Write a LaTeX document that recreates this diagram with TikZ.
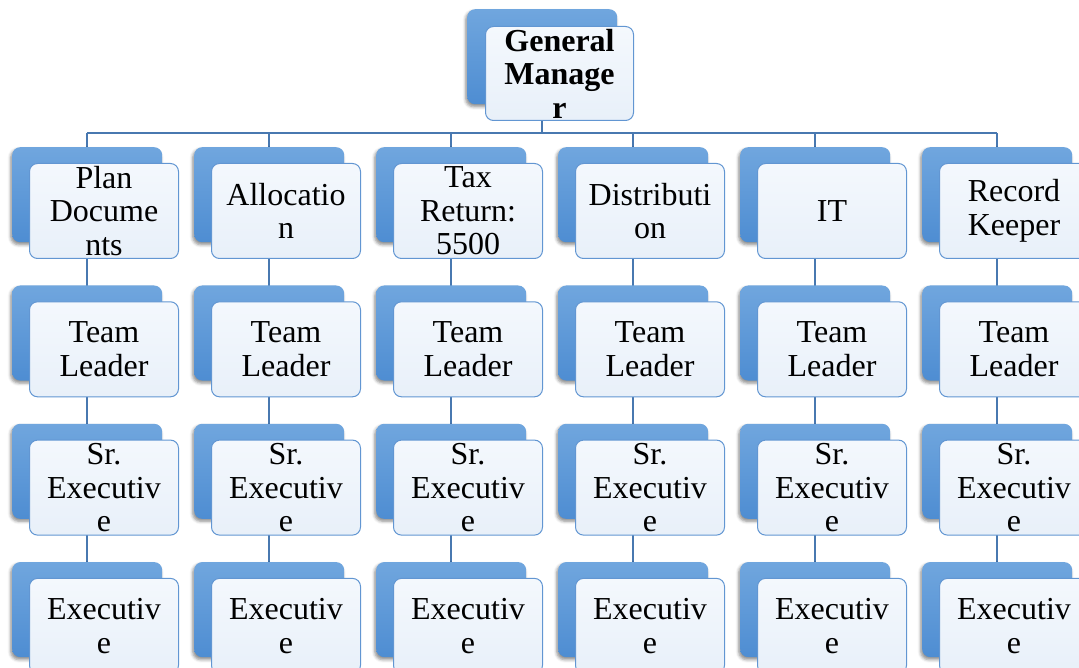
\documentclass[tikz,border=0pt]{standalone}
\usepackage{fontspec}
\setmainfont{Liberation Serif}
\usetikzlibrary{shadows.blur}
\definecolor{backtop}{RGB}{112,166,222}
\definecolor{backbot}{RGB}{78,141,210}
\definecolor{cardtop}{RGB}{244,248,253}
\definecolor{cardbot}{RGB}{232,240,249}
\definecolor{cardline}{RGB}{98,150,210}
\definecolor{linkcol}{RGB}{72,120,176}
\tikzset{
  backbox/.style={anchor=north west, rectangle, rounded corners=8pt,
    minimum width=150pt, minimum height=95pt, inner sep=0pt,
    top color=backtop, bottom color=backbot, draw=none,
    blur shadow={shadow xshift=-1.5pt, shadow yshift=-2.5pt,
      shadow blur radius=3pt, shadow opacity=45}},
  card/.style={anchor=north west, rectangle, rounded corners=8pt,
    minimum width=149pt, minimum height=95pt, inner sep=0pt,
    top color=cardtop, bottom color=cardbot, draw=cardline, line width=1pt,
    text width=149pt, align=center,
    font=\fontsize{32}{33.5}\selectfont},
  link/.style={draw=linkcol, line width=2.2pt}
}
\begin{document}
\begin{tikzpicture}[x=1pt,y=-1pt]
\useasboundingbox (0,0) rectangle (1079,668);

% top box (positions only; drawn after the links)
\coordinate (gmpos) at (467,9);
\coordinate (bus) at (0,133);

% links: manager down to the bus, bus across, each column down
\draw[link] (542,60) coordinate (gmc) -- (gmc |- bus) coordinate (busmid);
\draw[link] (87,133) coordinate (busl) -- (997,133) coordinate (busr);
\foreach \c in {1,...,6}{
  \pgfmathsetmacro{\cx}{87+182*(\c-1)}
  \draw[link] (\cx,133) coordinate (top\c) -- (\cx,600) coordinate (end\c);
}

% manager
\node[backbox] (gmb) at (467,9) {};
\node[card, font=\fontsize{32}{33.5}\selectfont\bfseries,
  minimum width=148pt, text width=148pt, minimum height=94pt]
  (gmf) at (485,26) {General\\Manage\\r};

% columns: back block and front card for every row
\foreach \c/\t in {1/{Plan\\Docume\\nts}, 2/{Allocatio\\n}, 3/{Tax\\Return:\\5500},
                  4/{Distributi\\on}, 5/{IT}, 6/{Record\\Keeper}}{
  \pgfmathsetmacro{\bx}{12+182*(\c-1)}
  \pgfmathsetmacro{\fx}{\bx+17}
  \foreach \r/\s in {1/{\t}, 2/{Team\\Leader}, 3/{Sr.\\Executiv\\e}, 4/{Executiv\\e}}{
    \pgfmathsetmacro{\by}{147+138.3*(\r-1)}
    \pgfmathsetmacro{\fy}{\by+16}
    \node[backbox] (b\r-\c) at (\bx,\by) {};
    \node[card] (f\r-\c) at (\fx,\fy) {\s};
  }
}
\end{tikzpicture}
\end{document}
